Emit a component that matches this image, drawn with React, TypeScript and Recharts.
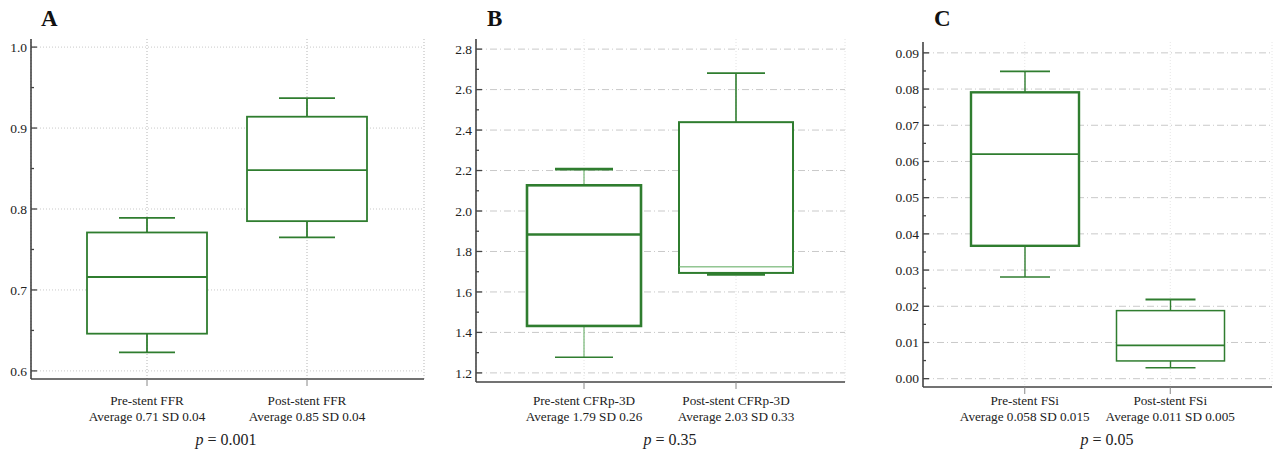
import React from "react";
import { ComposedChart, Bar, XAxis, YAxis, CartesianGrid } from "recharts";

// panel A - FFR
const ffrCategories = ["Pre-stent FFR", "Post-stent FFR"];
const ffrSummary = ["Average 0.71 SD 0.04", "Average 0.85 SD 0.04"];
const ffrMin = [0.623, 0.765];
const ffrQ1 = [0.646, 0.785];
const ffrMedian = [0.716, 0.848];
const ffrQ3 = [0.771, 0.914];
const ffrMax = [0.789, 0.937];
const ffrTicks = [0.6, 0.7, 0.8, 0.9, 1.0];
const ffrMinorTicks = [0.65, 0.75, 0.85, 0.95];

// panel B - CFRp-3D
const cfrCategories = ["Pre-stent CFRp-3D", "Post-stent CFRp-3D"];
const cfrSummary = ["Average 1.79 SD 0.26", "Average 2.03 SD 0.33"];
const cfrMin = [1.277, 1.688];
const cfrQ1 = [1.432, 1.694];
const cfrMedian = [1.884, 1.724];
const cfrQ3 = [2.127, 2.439];
const cfrMax = [2.207, 2.681];
const cfrTicks = [1.2, 1.4, 1.6, 1.8, 2.0, 2.2, 2.4, 2.6, 2.8];
const cfrMinorTicks = [1.3, 1.5, 1.7, 1.9, 2.1, 2.3, 2.5, 2.7];

// panel C - FSi
const fsiCategories = ["Pre-stent FSi", "Post-stent FSi"];
const fsiSummary = ["Average 0.058 SD 0.015", "Average 0.011 SD 0.005"];
const fsiMin = [0.0281, 0.003];
const fsiQ1 = [0.0367, 0.0049];
const fsiMedian = [0.062, 0.0092];
const fsiQ3 = [0.0791, 0.0188];
const fsiMax = [0.0849, 0.0219];
const fsiTicks = [0, 0.01, 0.02, 0.03, 0.04, 0.05, 0.06, 0.07, 0.08, 0.09];
const fsiMinorTicks = [0.005, 0.015, 0.025, 0.035, 0.045, 0.055, 0.065, 0.075, 0.085];

const GREEN = "#2f7d2f";
const LIGHT_GREEN = "#5aa85a";
const AXIS = "#444";
const GRID = "#c9c9c9";
const FONT = "'Liberation Serif', 'Times New Roman', serif";

type BoxStyle = {
  box: number;
  median: number;
  medianColor?: string;
  whisker: number;
  whiskerColor?: string;
  capTop: number;
  capBottom: number;
};

const makeRows = (
  cats: string[],
  mins: number[],
  q1s: number[],
  meds: number[],
  q3s: number[],
  maxs: number[]
) =>
  cats.map((name, i) => ({
    name,
    min: mins[i],
    q1: q1s[i],
    median: meds[i],
    q3: q3s[i],
    max: maxs[i],
    range: [mins[i], maxs[i]],
  }));

const BoxShape = (props: any) => {
  const { x, y, width, height, payload, index, styles, capHalf } = props;
  const st: BoxStyle = styles[index];
  const { min, q1, median, q3, max } = payload;
  // range bar spans min..max, so map the inner stats linearly inside it
  const pix = (v: number) => y + ((max - v) / (max - min)) * height;
  const cx = x + width / 2;
  const yQ1 = pix(q1);
  const yQ3 = pix(q3);
  const yMed = pix(median);
  const yMin = pix(min);
  const yMax = pix(max);
  return (
    <g>
      <line x1={cx} x2={cx} y1={yMax} y2={yQ3} stroke={st.whiskerColor ?? GREEN} strokeWidth={st.whisker} />
      <line x1={cx} x2={cx} y1={yQ1} y2={yMin} stroke={st.whiskerColor ?? GREEN} strokeWidth={st.whisker} />
      <line x1={cx - capHalf} x2={cx + capHalf} y1={yMax} y2={yMax} stroke={GREEN} strokeWidth={st.capTop} />
      <line x1={cx - capHalf} x2={cx + capHalf} y1={yMin} y2={yMin} stroke={GREEN} strokeWidth={st.capBottom} />
      <rect x={x} y={yQ3} width={width} height={yQ1 - yQ3} fill="#fff" stroke={GREEN} strokeWidth={st.box} />
      <line x1={x} x2={x + width} y1={yMed} y2={yMed} stroke={st.medianColor ?? GREEN} strokeWidth={st.median} />
    </g>
  );
};

const YTick = (props: any) => {
  const { x, y, payload, majors, decimals } = props;
  const v = payload.value;
  const isMajor = majors.some((m: number) => Math.abs(m - v) < 1e-9);
  const ax = x + 4;
  return (
    <g>
      <line x1={ax} x2={ax + (isMajor ? 6 : 3)} y1={y} y2={y} stroke={AXIS} strokeWidth={1.3} />
      {isMajor && (
        <text x={x} y={y} dy="0.35em" textAnchor="end" fontSize={13.5} fill="#222" fontFamily={FONT}>
          {v.toFixed(decimals)}
        </text>
      )}
    </g>
  );
};

const XTick = (props: any) => {
  const { x, payload, index, summary, baseline } = props;
  return (
    <text x={x} y={baseline} textAnchor="middle" fontSize={13.2} fill="#222" fontFamily={FONT}>
      <tspan x={x} y={baseline}>{payload.value}</tspan>
      <tspan x={x} y={baseline + 15.5}>{summary[index]}</tspan>
    </text>
  );
};

type PanelProps = {
  left: number;
  width: number;
  letter: string;
  letterX: number;
  pText: string;
  pX: number;
  rows: any[];
  summary: string[];
  ticks: number[];
  minorTicks: number[];
  decimals: number;
  domain: [number, number];
  yWidth: number;
  margin: { top: number; right: number; bottom: number; left: number };
  pad: { left: number; right: number };
  boxWidth: number;
  capHalf: number;
  gridDash: string;
  vGridColor: string;
  styles: BoxStyle[];
};

function BoxPanel(p: PanelProps) {
  const allTicks = [...p.ticks, ...p.minorTicks].sort((a, b) => a - b);
  return (
    <div style={{ position: "absolute", left: p.left, top: 0, width: p.width, height: 456 }}>
      <div
        style={{
          position: "absolute",
          left: p.letterX,
          top: 6,
          fontFamily: FONT,
          fontWeight: "bold",
          fontSize: 23,
          color: "#111",
        }}
      >
        {p.letter}
      </div>
      <ComposedChart width={p.width} height={456} data={p.rows} margin={p.margin}>
        <CartesianGrid
          stroke={GRID}
          strokeDasharray={p.gridDash}
          vertical={false}
          horizontalValues={p.ticks}
        />
        <CartesianGrid stroke={p.vGridColor} strokeDasharray="1 2" horizontal={false} />
        <XAxis
          dataKey="name"
          type="category"
          padding={p.pad}
          height={50}
          axisLine={{ stroke: AXIS, strokeWidth: 1.6 }}
          tickLine={{ stroke: "#888", strokeWidth: 1 }}
          tickSize={7}
          tickMargin={0}
          interval={0}
          tick={(tp: any) => <XTick {...tp} summary={p.summary} baseline={405} />}
        />
        <YAxis
          type="number"
          domain={p.domain}
          ticks={allTicks}
          width={p.yWidth}
          interval={0}
          allowDataOverflow
          axisLine={{ stroke: AXIS, strokeWidth: 1.6 }}
          tickLine={false}
          tickSize={0}
          tickMargin={4}
          tick={(tp: any) => <YTick {...tp} majors={p.ticks} decimals={p.decimals} />}
        />
        <Bar
          dataKey="range"
          barSize={p.boxWidth}
          isAnimationActive={false}
          shape={(bp: any) => <BoxShape {...bp} styles={p.styles} capHalf={p.capHalf} />}
        />
      </ComposedChart>
      <div
        style={{
          position: "absolute",
          left: p.pX - 60,
          width: 120,
          top: 431,
          textAlign: "center",
          fontFamily: FONT,
          fontSize: 16,
          color: "#222",
        }}
      >
        <i>p</i> = {p.pText}
      </div>
    </div>
  );
}

export default function App() {
  const ffrRows = makeRows(ffrCategories, ffrMin, ffrQ1, ffrMedian, ffrQ3, ffrMax);
  const cfrRows = makeRows(cfrCategories, cfrMin, cfrQ1, cfrMedian, cfrQ3, cfrMax);
  const fsiRows = makeRows(fsiCategories, fsiMin, fsiQ1, fsiMedian, fsiQ3, fsiMax);

  return (
    <div
      style={{
        position: "absolute",
        left: 0,
        top: 0,
        width: 1274,
        height: 456,
        background: "#fff",
        overflow: "hidden",
      }}
    >
      <BoxPanel
        left={0}
        width={430}
        letter="A"
        letterX={41}
        pText="0.001"
        pX={226}
        rows={ffrRows}
        summary={ffrSummary}
        ticks={ffrTicks}
        minorTicks={ffrMinorTicks}
        decimals={1}
        domain={[0.59, 1.01]}
        yWidth={31}
        margin={{ top: 39, right: 6, bottom: 27, left: 0 }}
        pad={{ left: 36, right: 37 }}
        boxWidth={120}
        capHalf={28}
        gridDash="1 2"
        vGridColor="#b5b5b5"
        styles={[
          { box: 1.8, median: 1.8, whisker: 1.8, capTop: 1.8, capBottom: 1.8 },
          { box: 1.8, median: 1.8, whisker: 1.8, capTop: 1.8, capBottom: 1.8 },
        ]}
      />
      <BoxPanel
        left={430}
        width={430}
        letter="B"
        letterX={57}
        pText="0.35"
        pX={240}
        rows={cfrRows}
        summary={cfrSummary}
        ticks={cfrTicks}
        minorTicks={cfrMinorTicks}
        decimals={1}
        domain={[1.155, 2.85]}
        yWidth={46}
        margin={{ top: 39, right: 15, bottom: 24, left: 0 }}
        pad={{ left: 32, right: 33 }}
        boxWidth={114}
        capHalf={29}
        gridDash="7 3 1 3"
        vGridColor="#e2e2e2"
        styles={[
          { box: 2.6, median: 2.4, whisker: 1, whiskerColor: LIGHT_GREEN, capTop: 2.8, capBottom: 1.4 },
          { box: 2.0, median: 1, medianColor: LIGHT_GREEN, whisker: 1.6, capTop: 1.8, capBottom: 3 },
        ]}
      />
      <BoxPanel
        left={860}
        width={414}
        letter="C"
        letterX={74}
        pText="0.05"
        pX={247}
        rows={fsiRows}
        summary={fsiSummary}
        ticks={fsiTicks}
        minorTicks={fsiMinorTicks}
        decimals={2}
        domain={[-0.0023, 0.093]}
        yWidth={63}
        margin={{ top: 42, right: 2, bottom: 19, left: 0 }}
        pad={{ left: 29, right: 29 }}
        boxWidth={108}
        capHalf={25}
        gridDash="7 3 1 3"
        vGridColor="#e6e6e6"
        styles={[
          { box: 2.4, median: 1.8, whisker: 1.4, capTop: 1.8, capBottom: 1.4 },
          { box: 1.5, median: 1.8, whisker: 1.4, capTop: 2, capBottom: 1.6 },
        ]}
      />
    </div>
  );
}
